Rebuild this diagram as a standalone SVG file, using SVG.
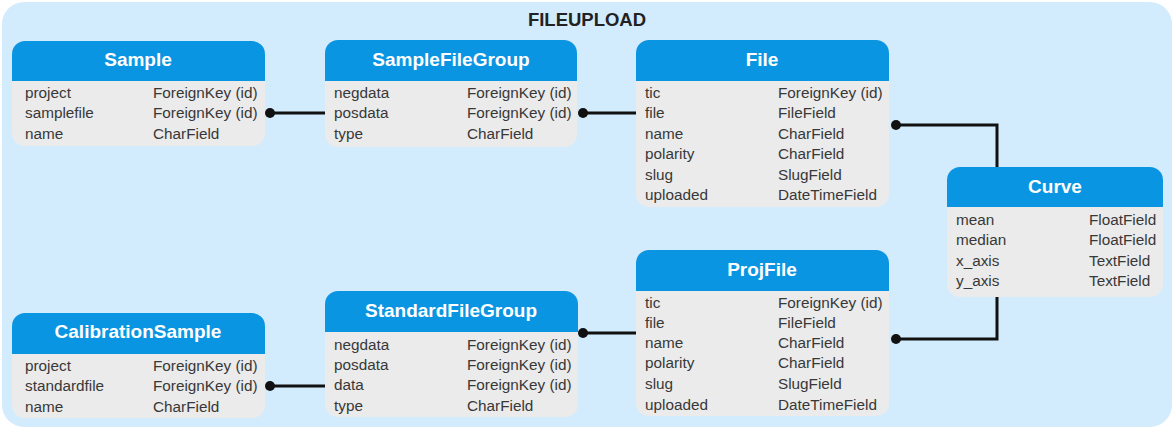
<svg xmlns="http://www.w3.org/2000/svg" width="1174" height="429" viewBox="0 0 1174 429">
<style>
.bg{fill:#d3ecfd}
.body{fill:#ebebeb}
.head{fill:#0a95e2}
.title{font-family:"Liberation Sans",Arial,sans-serif;font-weight:bold;font-size:18.5px;fill:#222;text-anchor:middle}
.ht{font-family:"Liberation Sans",Arial,sans-serif;font-weight:bold;font-size:19px;fill:#ffffff;text-anchor:middle}
.f{font-family:"Liberation Sans",Arial,sans-serif;font-size:15.3px;fill:#383838}
.c{fill:none;stroke:#111;stroke-width:3}
.d{fill:#111}
</style>
<rect class="bg" x="2" y="2" width="1170" height="425" rx="22"/>
<text class="title" x="587" y="26">FILEUPLOAD</text>

<g id="connectors">
<line class="c" x1="270" y1="113" x2="325" y2="113"/><circle class="d" cx="270" cy="113" r="5"/>
<line class="c" x1="583" y1="113" x2="636" y2="113"/><circle class="d" cx="583" cy="113" r="5"/>
<path class="c" d="M896 125 H997 V167"/><circle class="d" cx="896" cy="125" r="5"/>
<path class="c" d="M896 339 H997 V297"/><circle class="d" cx="896" cy="339" r="5"/>
<line class="c" x1="583" y1="333" x2="636" y2="333"/><circle class="d" cx="583" cy="333" r="5"/>
<line class="c" x1="270" y1="386" x2="325" y2="386"/><circle class="d" cx="270" cy="386" r="5"/>
</g>

<g id="Sample">
<rect class="body" x="12" y="41" width="253" height="105" rx="13"/>
<path class="head" d="M12 81 V54 A13 13 0 0 1 25 41 H252 A13 13 0 0 1 265 54 V81 Z"/>
<text class="ht" x="138" y="66">Sample</text>
<text class="f" x="25" y="98">project</text><text class="f" x="153" y="98">ForeignKey (id)</text>
<text class="f" x="25" y="118">samplefile</text><text class="f" x="153" y="118">ForeignKey (id)</text>
<text class="f" x="25" y="139">name</text><text class="f" x="153" y="139">CharField</text>
</g>

<g id="SampleFileGroup">
<rect class="body" x="325" y="40" width="252" height="107" rx="13"/>
<path class="head" d="M325 81 V53 A13 13 0 0 1 338 40 H564 A13 13 0 0 1 577 53 V81 Z"/>
<text class="ht" x="451" y="66">SampleFileGroup</text>
<text class="f" x="334" y="98">negdata</text><text class="f" x="467" y="98">ForeignKey (id)</text>
<text class="f" x="334" y="118">posdata</text><text class="f" x="467" y="118">ForeignKey (id)</text>
<text class="f" x="334" y="139">type</text><text class="f" x="467" y="139">CharField</text>
</g>

<g id="File">
<rect class="body" x="636" y="40" width="253" height="167" rx="13"/>
<path class="head" d="M636 81 V53 A13 13 0 0 1 649 40 H876 A13 13 0 0 1 889 53 V81 Z"/>
<text class="ht" x="762" y="66">File</text>
<text class="f" x="645" y="98">tic</text><text class="f" x="778" y="98">ForeignKey (id)</text>
<text class="f" x="645" y="118">file</text><text class="f" x="778" y="118">FileField</text>
<text class="f" x="645" y="139">name</text><text class="f" x="778" y="139">CharField</text>
<text class="f" x="645" y="159">polarity</text><text class="f" x="778" y="159">CharField</text>
<text class="f" x="645" y="180">slug</text><text class="f" x="778" y="180">SlugField</text>
<text class="f" x="645" y="200">uploaded</text><text class="f" x="778" y="200">DateTimeField</text>
</g>

<g id="Curve">
<rect class="body" x="947" y="167" width="216" height="130" rx="13"/>
<path class="head" d="M947 207 V180 A13 13 0 0 1 960 167 H1150 A13 13 0 0 1 1163 180 V207 Z"/>
<text class="ht" x="1055" y="193">Curve</text>
<text class="f" x="956" y="225">mean</text><text class="f" x="1089" y="225">FloatField</text>
<text class="f" x="956" y="245">median</text><text class="f" x="1089" y="245">FloatField</text>
<text class="f" x="956" y="266">x_axis</text><text class="f" x="1089" y="266">TextField</text>
<text class="f" x="956" y="286">y_axis</text><text class="f" x="1089" y="286">TextField</text>
</g>

<g id="CalibrationSample">
<rect class="body" x="12" y="313" width="253" height="105" rx="13"/>
<path class="head" d="M12 354 V326 A13 13 0 0 1 25 313 H252 A13 13 0 0 1 265 326 V354 Z"/>
<text class="ht" x="138" y="338">CalibrationSample</text>
<text class="f" x="25" y="371">project</text><text class="f" x="153" y="371">ForeignKey (id)</text>
<text class="f" x="25" y="391">standardfile</text><text class="f" x="153" y="391">ForeignKey (id)</text>
<text class="f" x="25" y="412">name</text><text class="f" x="153" y="412">CharField</text>
</g>

<g id="StandardFileGroup">
<rect class="body" x="325" y="291" width="253" height="126" rx="13"/>
<path class="head" d="M325 332 V304 A13 13 0 0 1 338 291 H565 A13 13 0 0 1 578 304 V332 Z"/>
<text class="ht" x="451" y="317">StandardFileGroup</text>
<text class="f" x="334" y="350">negdata</text><text class="f" x="467" y="350">ForeignKey (id)</text>
<text class="f" x="334" y="370">posdata</text><text class="f" x="467" y="370">ForeignKey (id)</text>
<text class="f" x="334" y="390">data</text><text class="f" x="467" y="390">ForeignKey (id)</text>
<text class="f" x="334" y="411">type</text><text class="f" x="467" y="411">CharField</text>
</g>

<g id="ProjFile">
<rect class="body" x="636" y="250" width="253" height="166" rx="13"/>
<path class="head" d="M636 291 V263 A13 13 0 0 1 649 250 H876 A13 13 0 0 1 889 263 V291 Z"/>
<text class="ht" x="762" y="276">ProjFile</text>
<text class="f" x="645" y="308">tic</text><text class="f" x="778" y="308">ForeignKey (id)</text>
<text class="f" x="645" y="328">file</text><text class="f" x="778" y="328">FileField</text>
<text class="f" x="645" y="348">name</text><text class="f" x="778" y="348">CharField</text>
<text class="f" x="645" y="368">polarity</text><text class="f" x="778" y="368">CharField</text>
<text class="f" x="645" y="389">slug</text><text class="f" x="778" y="389">SlugField</text>
<text class="f" x="645" y="410">uploaded</text><text class="f" x="778" y="410">DateTimeField</text>
</g>
</svg>
